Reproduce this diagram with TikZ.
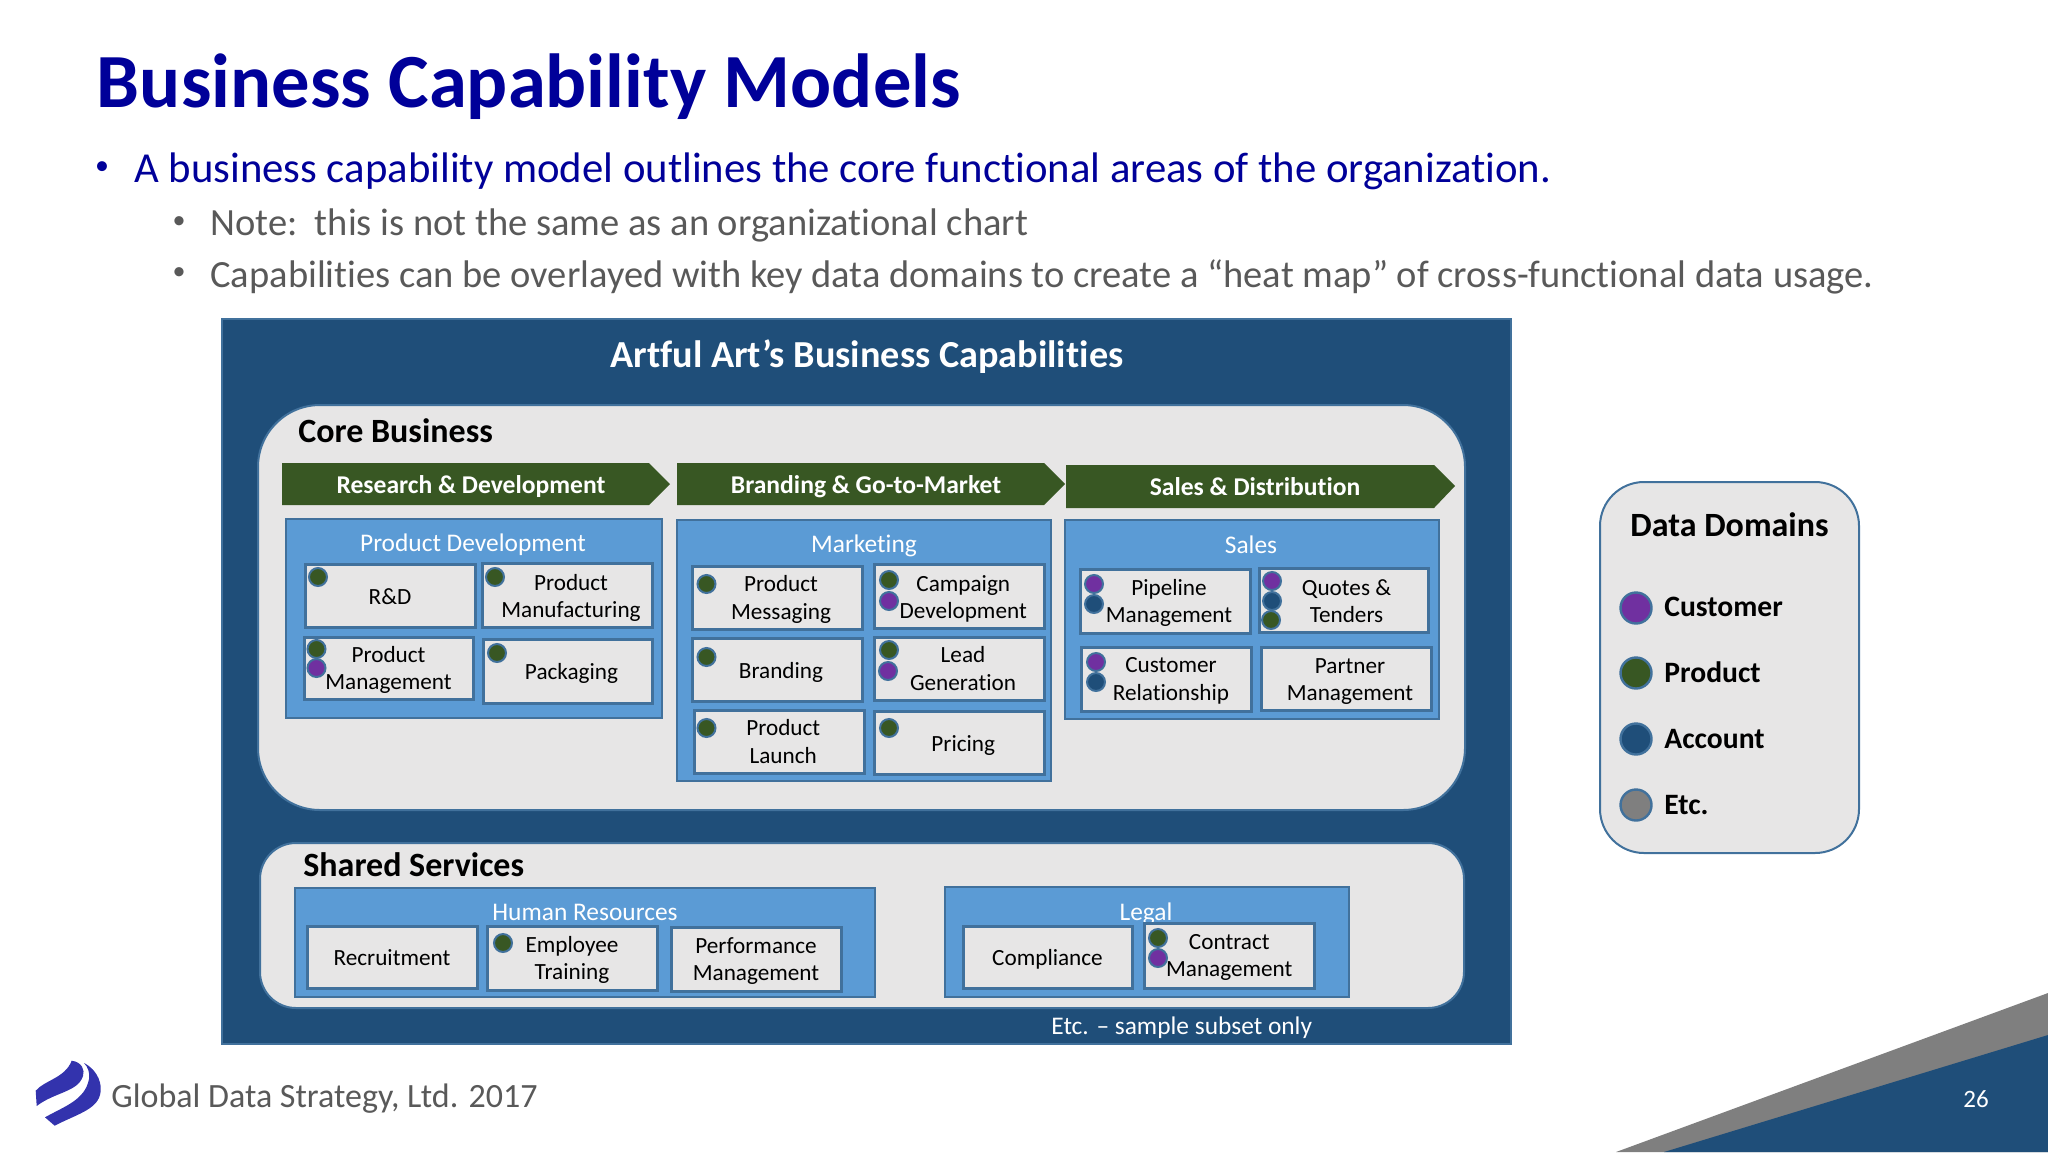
\documentclass[tikz,border=0pt]{standalone}
\usepackage{fontspec}
\setmainfont{Carlito}[Ligatures=CommonOff]
\definecolor{deep}{HTML}{1F4E79}
\definecolor{edge}{HTML}{41719C}
\definecolor{panel}{HTML}{E7E6E6}
\definecolor{mid}{HTML}{5B9BD5}
\definecolor{leaf}{HTML}{385723}
\definecolor{plum}{HTML}{7030A0}
\definecolor{stone}{HTML}{7F7F7F}
\definecolor{navy}{HTML}{000099}
\definecolor{ink}{HTML}{595959}
\tikzset{
  px/.style={x=0.5pt,y=-0.5pt},
  framebox/.style={draw=edge,line width=1pt,fill=mid,inner sep=0pt},
  itembox/.style={draw=edge,line width=1.5pt,fill=panel,inner sep=0pt},
  itemtxt/.style={inner sep=0pt,align=center,font=\fontsize{11.6}{13.8}\selectfont,text=black},
  roundpanel/.style={draw=edge,line width=1pt,fill=panel,inner sep=0pt},
  dot/.style={circle,draw=edge,line width=1pt,inner sep=0pt,minimum size=9pt},
  keydot/.style={circle,draw=edge,line width=1.2pt,inner sep=0pt,minimum size=15.5pt},
  headtxt/.style={font=\fontsize{12.7}{15}\selectfont,text=white,inner sep=0pt},
  arrowtxt/.style={font=\bfseries\fontsize{12.8}{15}\selectfont,text=white,inner sep=0pt},
  sectxt/.style={font=\bfseries\fontsize{17}{20}\selectfont,text=black,inner sep=0pt},
  keytxt/.style={font=\bfseries\fontsize{14.8}{18}\selectfont,text=black,inner sep=0pt,anchor=west},
  subbul/.style={font=\fontsize{19.25}{23}\selectfont,text=ink,inner sep=0pt,anchor=west},
  mainbul/.style={font=\fontsize{21.37}{25}\selectfont,text=navy,inner sep=0pt,anchor=west},
}
\newcommand{\bx}[7][]{%
  \pgfmathsetmacro\bxW{(#5-#3)*0.5}\pgfmathsetmacro\bxH{(#6-#4)*0.5}%
  \pgfmathsetmacro\bxX{(#5+#3)/2}\pgfmathsetmacro\bxY{(#6+#4)/2}%
  \node[#1,minimum width=\bxW pt,minimum height=\bxH pt] (#2) at (\bxX,\bxY) {#7};}
% name, x1, y1, x2, y2, dx, dy, text
\newcommand{\itm}[8]{%
  \bx[itembox]{#1}{#2}{#3}{#4}{#5}{}%
  \node[itemtxt] (#1t) at ({\bxX+#6},{\bxY+#7}) {#8};}
\newcommand{\dt}[4]{\node[dot,fill=#2] (#1) at (#3,#4) {};}
\begin{document}
\begin{tikzpicture}[px]
\useasboundingbox (0,0) rectangle (2048,1152);
% corner
\fill[stone] (1616,1152) -- (2048,993) -- (2048,1152) -- cycle;
\fill[deep] (1664,1152) -- (2048,1035) -- (2048,1152) -- cycle;
\node[font=\fontsize{12.5}{15}\selectfont,text=white,inner sep=0pt] (pageno) at (1976,1099) {26};
% header
\node[font=\bfseries\fontsize{38.3}{44}\selectfont,text=navy,inner sep=0pt,anchor=west] (title) at (96.5,87) {Business Capability Models};
\node[font=\fontsize{14}{16}\selectfont,text=navy,inner sep=0pt] (b1) at (102,168) {•};
\node[mainbul] (l1) at (134,171) {A business capability model outlines the core functional areas of the organization.};
\node[font=\fontsize{13}{15}\selectfont,text=ink,inner sep=0pt] (b2) at (179,223) {•};
\node[subbul] (l2) at (210,225) {Note:\ \ this is not the same as an organizational chart};
\node[font=\fontsize{13}{15}\selectfont,text=ink,inner sep=0pt] (b3) at (179,274) {•};
\node[subbul] (l3) at (210,277) {Capabilities can be overlayed with key data domains to create a “heat map” of cross-functional data usage.};
% main
\bx[draw=edge,line width=1pt,fill=deep,inner sep=0pt]{main}{222}{319}{1511}{1044}{}
\node[font=\bfseries\fontsize{19.1}{23}\selectfont,text=white,inner sep=0pt] (maintitle) at (867,357) {Artful Art’s Business Capabilities};
\bx[roundpanel,rounded corners=31pt]{core}{258}{405}{1465}{810}{}
\node[sectxt,anchor=west] (coretxt) at (298,431) {Core Business};
% arrows
\fill[leaf] (282,463) -- (649,463) -- (670,484) -- (649,505) -- (282,505) -- cycle;
\node[arrowtxt] (a1) at (471,487) {Research \& Development};
\fill[leaf] (677,463) -- (1044,463) -- (1065,484) -- (1044,505) -- (677,505) -- cycle;
\node[arrowtxt] (a2) at (866,487) {Branding \& Go-to-Market};
\fill[leaf] (1066,465) -- (1434,465) -- (1455,486) -- (1434,508) -- (1066,508) -- cycle;
\node[arrowtxt] (a3) at (1255,487) {Sales \& Distribution};
% product development
\bx[framebox]{pd}{286}{519}{662}{718}{}
\node[headtxt] (pdt) at (473,545) {Product Development};
\itm{rd}{305}{564}{475}{627}{0}{1}{R\&D}
\itm{pm}{482}{563}{652}{627}{4}{3}{Product\\Manufacturing}
\itm{pg}{304}{637}{473}{699}{0}{2}{Product\\Management}
\itm{pk}{483}{639}{652}{703}{4}{2}{Packaging}
\dt{d1}{leaf}{318}{577}
\dt{d2}{leaf}{495}{577}
\dt{d3}{leaf}{316.5}{649}
\dt{d4}{plum}{316.5}{668}
\dt{d5}{leaf}{497}{653}
% marketing
\bx[framebox]{mk}{677}{520}{1051}{781}{}
\node[headtxt] (mkt) at (864,546) {Marketing};
\itm{ms}{692}{566}{862}{629}{4}{2}{Product\\Messaging}
\itm{cd}{874}{564}{1044.5}{628}{4}{3}{Campaign\\Development}
\itm{br}{692}{638}{862}{701}{4}{3}{Branding}
\itm{lg}{874}{637}{1044}{700}{4}{0}{Lead\\Generation}
\itm{pl}{694.5}{710}{864}{773}{4}{0}{Product\\Launch}
\itm{pr}{874}{711}{1044.5}{774}{4}{3}{Pricing}
\dt{d6}{leaf}{706.5}{584}
\dt{d7}{leaf}{889}{580}
\dt{d8}{plum}{889}{601}
\dt{d9}{leaf}{706.5}{657}
\dt{d10}{leaf}{889}{650}
\dt{d11}{plum}{888}{671}
\dt{d12}{leaf}{706.5}{728}
\dt{d13}{leaf}{889}{728}
% sales
\bx[framebox]{sl}{1064.5}{520}{1439}{719}{}
\node[headtxt] (slt) at (1251,545) {Sales};
\itm{pp}{1080}{569}{1250}{633}{4}{2}{Pipeline\\Management}
\itm{qt}{1259}{568}{1428}{632}{3}{1}{Quotes \&\\Tenders}
\itm{cr}{1081}{647}{1251}{711}{5}{2}{Customer\\Relationship}
\itm{pa}{1261}{647}{1431}{710}{4}{3}{Partner\\Management}
\dt{d14}{plum}{1094}{584}
\dt{d15}{deep}{1094}{604}
\dt{d16}{plum}{1272}{581}
\dt{d17}{deep}{1272}{601}
\dt{d18}{leaf}{1271}{620}
\dt{d19}{plum}{1096}{662}
\dt{d20}{deep}{1096}{682}
% shared
\bx[roundpanel,rounded corners=18pt]{shared}{260}{843}{1464}{1008}{}
\node[sectxt,anchor=west] (shtxt) at (303,865) {Shared Services};
\bx[framebox]{hr}{295}{888}{875}{997}{}
\node[headtxt] (hrt) at (585,912) {Human Resources};
\itm{re}{307}{926}{477}{988}{0}{1}{Recruitment}
\itm{et}{487}{926}{657}{990}{0}{2}{Employee\\Training}
\itm{pe}{671}{927}{841}{991}{0}{2}{Performance\\Management}
\dt{d21}{leaf}{503}{943}
\bx[framebox]{lgl}{945}{887}{1349}{997}{}
\node[headtxt] (lgt) at (1146,914) {Legal};
\itm{co}{963}{926}{1132}{988}{0}{2}{Compliance}
\itm{ct}{1144.5}{923}{1314}{988}{0}{2}{Contract\\Management}
\dt{d22}{leaf}{1158}{938}
\dt{d23}{plum}{1158}{958}
\node[font=\fontsize{12.7}{15}\selectfont,text=white,inner sep=0pt,anchor=west] (etc) at (1051,1028) {Etc. – sample subset only};
% data domains
\bx[roundpanel,rounded corners=22pt]{dd}{1600}{482}{1859}{853}{}
\node[sectxt] (ddt) at (1729.5,525) {Data Domains};
\node[keydot,fill=plum] (k1) at (1636,608) {};
\node[keydot,fill=leaf] (k2) at (1636,673) {};
\node[keydot,fill=deep] (k3) at (1636,739) {};
\node[keydot,fill=stone] (k4) at (1636,805) {};
\node[keytxt] (t1) at (1664,607) {Customer};
\node[keytxt] (t2) at (1664,672) {Product};
\node[keytxt] (t3) at (1664,739) {Account};
\node[keytxt] (t4) at (1664,805) {Etc.};
% footer
\fill[navy!80!white] (35.7,1090.7) .. controls (45,1080) and (65,1078) .. (71.7,1060.7) .. controls (82,1062) and (85,1070) .. (83,1076) .. controls (78,1092) and (55,1092) .. (36.7,1106) -- cycle;
\fill[navy!80!white] (45,1117.3) .. controls (65,1106) and (85,1100) .. (89,1079) .. controls (90,1073) and (88,1067) .. (84,1063) .. controls (98,1070) and (103,1085) .. (100,1095) .. controls (96,1110) and (75,1115) .. (54.7,1125.7) -- cycle;
\node[font=\fontsize{17}{20}\selectfont,text=ink,inner sep=0pt,anchor=west] (foot) at (111,1099) {Global Data Strategy, Ltd. 2017};
\end{tikzpicture}
\end{document}
